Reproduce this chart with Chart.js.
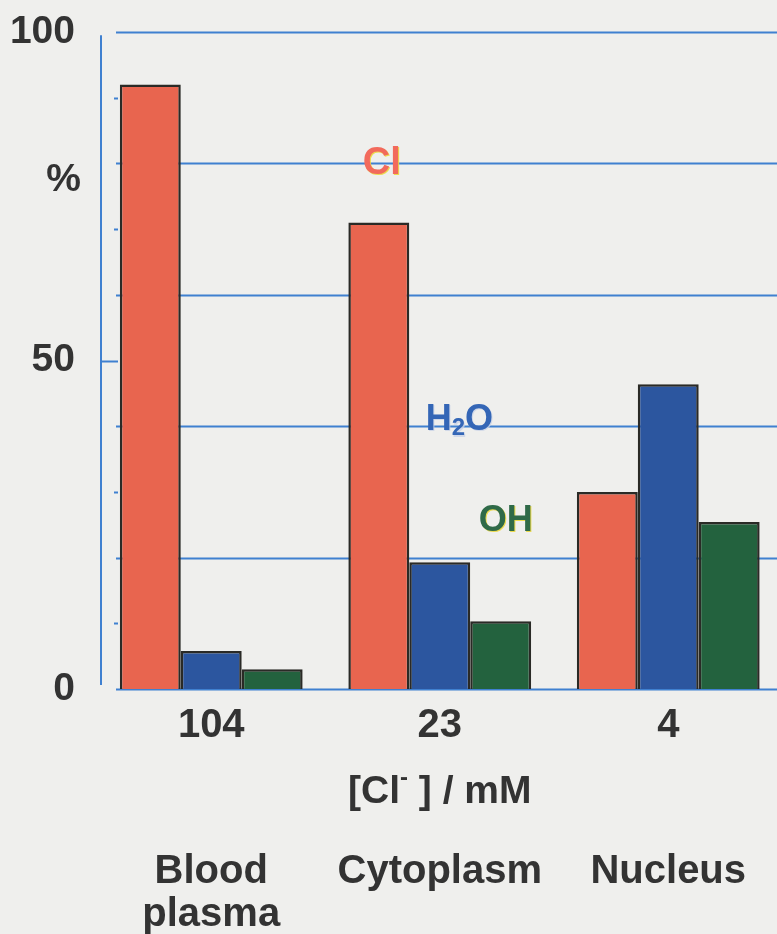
<!DOCTYPE html>
<html><head><meta charset="utf-8">
<script src="https://cdn.jsdelivr.net/npm/chart.js@4.4.1/dist/chart.umd.min.js"></script>
<style>
html,body{margin:0;padding:0;overflow:hidden;background:#EFEFED;}
#wrap{width:790px;height:934px;}
</style></head>
<body><div id="wrap"><canvas id="c" width="790" height="934"></canvas></div>
<script>
const concentrations = ['104', '23', '4'];
const compartments = [['Blood', 'plasma'], ['Cytoplasm'], ['Nucleus']];
const clValues = [92, 71, 30];
const h2oValues = [5.8, 19.3, 46.4];
const ohValues = [3.0, 10.3, 25.4];
const yLabelTicks = [0, 50, 100];
const gridValues = [0, 20, 40, 60, 80, 100];
const minorTicks = [10, 30, 70, 90];

const FONT = '"Liberation Sans", Arial, sans-serif';
const GRID = '#3F80D0';
const TEXT = '#333333';

const decor = {
  id: 'decor',
  beforeDraw(chart) {
    const ctx = chart.ctx;
    ctx.save();
    ctx.fillStyle = '#EFEFED';
    ctx.fillRect(0, 0, chart.width, chart.height);
    ctx.restore();
  },
  beforeDatasetsDraw(chart) {
    const ctx = chart.ctx, y = chart.scales.y, a = chart.chartArea;
    const axisX = a.left + 4;
    const gridStart = a.left + 19;
    ctx.save();
    ctx.strokeStyle = GRID;
    ctx.lineWidth = 2;
    gridValues.forEach(v => {
      const py = Math.round(y.getPixelForValue(v)) + 0.5;
      ctx.beginPath(); ctx.moveTo(gridStart, py); ctx.lineTo(chart.width, py); ctx.stroke();
    });
    ctx.beginPath();
    ctx.moveTo(axisX, y.getPixelForValue(99.5));
    ctx.lineTo(axisX, y.getPixelForValue(0.6));
    ctx.stroke();
    const p50 = Math.round(y.getPixelForValue(50)) + 0.5;
    ctx.beginPath(); ctx.moveTo(axisX, p50); ctx.lineTo(gridStart + 2, p50); ctx.stroke();
    minorTicks.forEach(v => {
      const py = Math.round(y.getPixelForValue(v)) + 0.5;
      ctx.beginPath(); ctx.moveTo(gridStart - 2, py); ctx.lineTo(gridStart + 2, py); ctx.stroke();
    });
    ctx.restore();
  },
  afterDatasetsDraw(chart) {
    const ctx = chart.ctx, x = chart.scales.x, y = chart.scales.y;
    const cx = x.getPixelForValue(1);
    ctx.save();
    ctx.textBaseline = 'middle';
    ctx.font = 'bold 39px ' + FONT;
    ctx.fillStyle = TEXT;
    ctx.textAlign = 'right';
    ctx.fillText('%', 81, y.getPixelForValue(77.5));
    ctx.shadowColor = 'rgba(235,215,60,0.9)';
    ctx.shadowOffsetX = 1; ctx.shadowOffsetY = 1.5; ctx.shadowBlur = 0;
    ctx.textAlign = 'center';
    ctx.font = 'bold 38px ' + FONT;
    ctx.fillStyle = '#F26A5C';
    ctx.fillText('Cl', cx - 58, y.getPixelForValue(80));
    ctx.shadowColor = 'rgba(200,210,230,0.8)';
    ctx.fillStyle = '#3466B6';
    ctx.textAlign = 'left';
    let hx = cx - 14, hy = y.getPixelForValue(41);
    ctx.font = 'bold 36px ' + FONT;
    ctx.fillText('H', hx, hy);
    hx += ctx.measureText('H').width;
    ctx.font = 'bold 24px ' + FONT;
    ctx.fillText('2', hx, hy + 9);
    hx += ctx.measureText('2').width;
    ctx.font = 'bold 36px ' + FONT;
    ctx.fillText('O', hx, hy);
    ctx.shadowColor = 'rgba(235,215,60,0.9)';
    ctx.fillStyle = '#2F6A48';
    ctx.textAlign = 'center';
    ctx.font = 'bold 36px ' + FONT;
    ctx.fillText('OH', cx + 66, y.getPixelForValue(25.6));
    ctx.restore();

    ctx.save();
    ctx.fillStyle = TEXT;
    ctx.textBaseline = 'middle';
    ctx.textAlign = 'left';
    const ty = 792;
    ctx.font = 'bold 39px ' + FONT;
    const p1 = '[Cl', p3 = ' ] / mM';
    const w1 = ctx.measureText(p1).width, w3 = ctx.measureText(p3).width;
    ctx.font = 'bold 24px ' + FONT;
    const w2 = ctx.measureText('-').width;
    const total = w1 + w2 + w3;
    let tx = cx - total / 2;
    ctx.font = 'bold 39px ' + FONT;
    ctx.fillText(p1, tx, ty); tx += w1;
    ctx.font = 'bold 24px ' + FONT;
    ctx.fillText('-', tx, ty - 14); tx += w2;
    ctx.font = 'bold 39px ' + FONT;
    ctx.fillText(p3, tx, ty);
    ctx.textAlign = 'center';
    ctx.font = 'bold 40px ' + FONT;
    compartments.forEach((lines, i) => {
      const px = x.getPixelForValue(i);
      lines.forEach((t, j) => ctx.fillText(t, px, 872 + j * 43));
    });
    ctx.restore();
  }
};

new Chart(document.getElementById('c'), {
  type: 'bar',
  data: {
    labels: concentrations,
    datasets: [
      { label: 'Cl', data: clValues, backgroundColor: '#E8654F' },
      { label: 'H2O', data: h2oValues, backgroundColor: '#2C569F' },
      { label: 'OH', data: ohValues, backgroundColor: '#23623E' }
    ]
  },
  options: {
    responsive: false,
    animation: false,
    events: [],
    layout: { padding: { top: 32, right: 7.5, left: 0, bottom: 0 } },
    datasets: { bar: { categoryPercentage: 0.8, barPercentage: 1.0, borderColor: '#2A2A26', borderWidth: 2.5 } },
    plugins: { legend: { display: false }, tooltip: { enabled: false } },
    scales: {
      x: {
        offset: true,
        grid: { display: false },
        border: { display: false },
        ticks: { color: TEXT, font: { family: FONT, size: 40, weight: 'bold' }, padding: 5 },
        afterFit(s) { s.height = 245; s.paddingLeft = 0; s.paddingRight = 0; }
      },
      y: {
        min: 0, max: 100,
        grid: { display: false },
        border: { display: false },
        ticks: {
          stepSize: 10, autoSkip: false,
          color: TEXT, font: { family: FONT, size: 39, weight: 'bold' }, padding: 14,
          callback: v => yLabelTicks.includes(v) ? String(v) : ''
        },
        afterFit(s) { s.width = 97; s.paddingTop = 0; s.paddingBottom = 0; }
      }
    }
  },
  plugins: [decor]
});
</script></body></html>
